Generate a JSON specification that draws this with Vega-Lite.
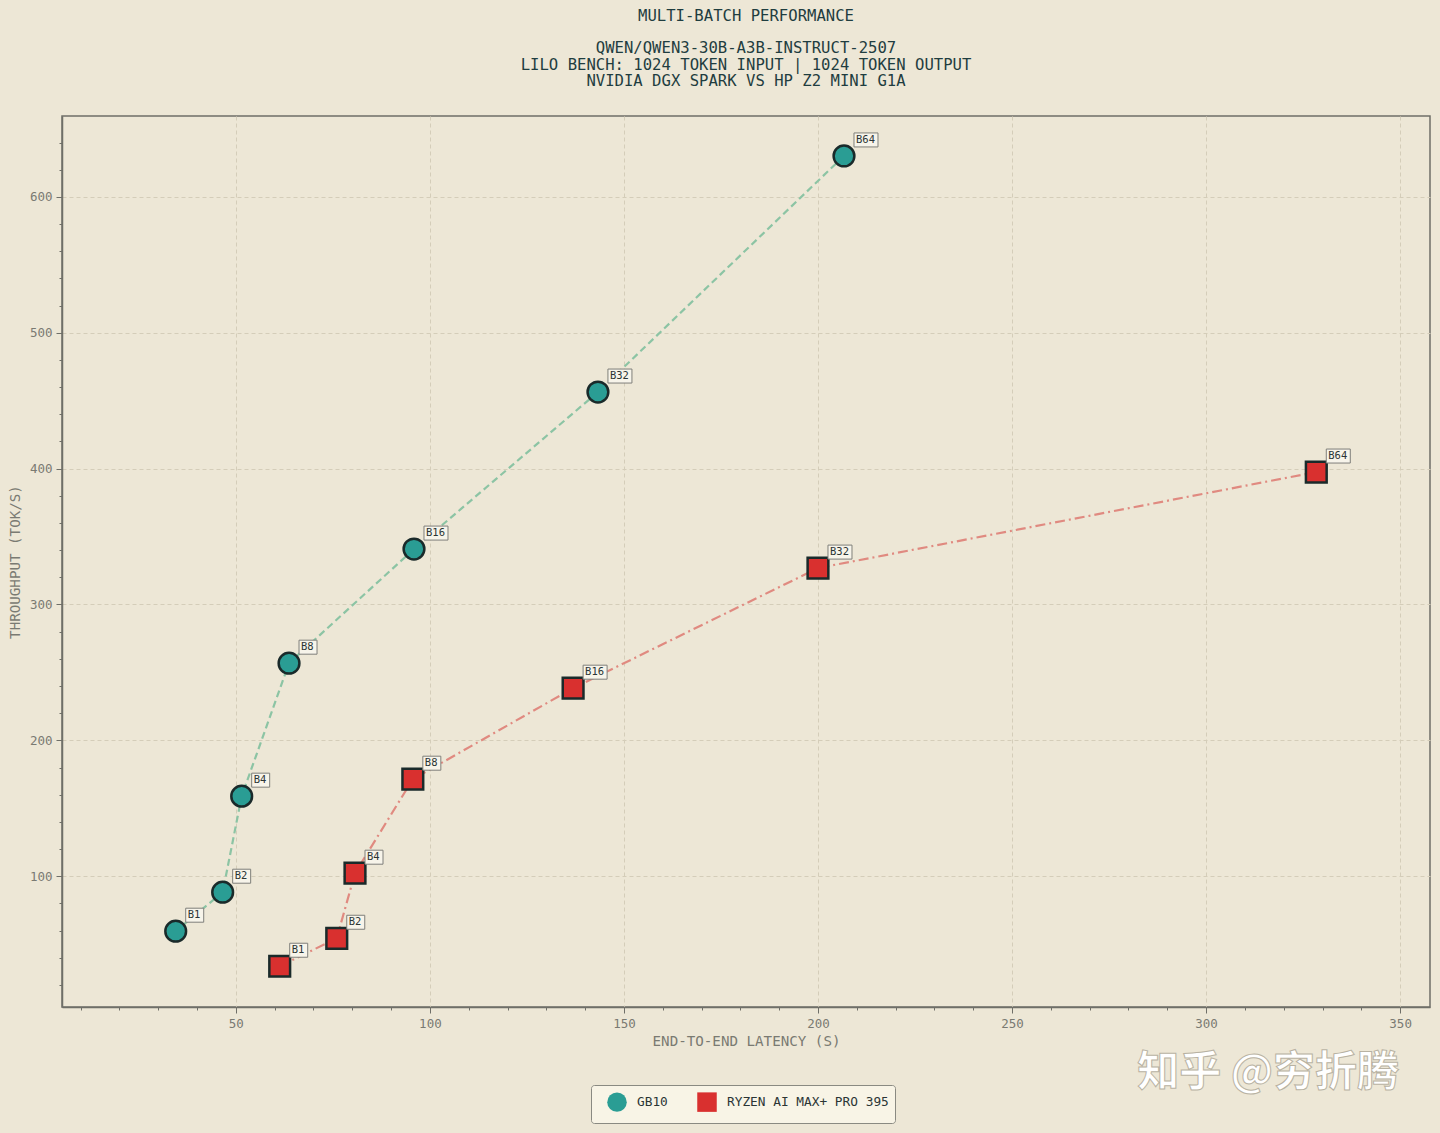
{
  "$schema": "https://vega.github.io/schema/vega-lite/v6.json",
  "width": 1368,
  "height": 891,
  "autosize": "none",
  "padding": {"left": 62, "top": 116, "right": 10, "bottom": 126},
  "background": "#ede7d6",
  "title": {
    "text": ["MULTI-BATCH PERFORMANCE", ""],
    "subtitle": ["QWEN/QWEN3-30B-A3B-INSTRUCT-2507", "LILO BENCH: 1024 TOKEN INPUT | 1024 TOKEN OUTPUT", "NVIDIA DGX SPARK VS HP Z2 MINI G1A"],
    "font": "DejaVu Sans Mono",
    "fontSize": 15.6,
    "fontWeight": "normal",
    "color": "#1f3d40",
    "subtitleFont": "DejaVu Sans Mono",
    "subtitleFontSize": 15.6,
    "subtitleColor": "#1f3d40",
    "subtitleLineHeight": 16.5,
    "lineHeight": 16.5,
    "subtitlePadding": 0,
    "anchor": "middle",
    "offset": 26
  },
  "data": {
    "values": [
      {"system": "GB10", "batch": "B1", "latency": 34.5, "throughput": 59.5},
      {"system": "GB10", "batch": "B2", "latency": 46.6, "throughput": 88.2},
      {"system": "GB10", "batch": "B4", "latency": 51.5, "throughput": 158.9},
      {"system": "GB10", "batch": "B8", "latency": 63.7, "throughput": 256.8},
      {"system": "GB10", "batch": "B16", "latency": 95.9, "throughput": 340.8},
      {"system": "GB10", "batch": "B32", "latency": 143.3, "throughput": 456.4},
      {"system": "GB10", "batch": "B64", "latency": 206.7, "throughput": 630.2},
      {"system": "RYZEN AI MAX+ PRO 395", "batch": "B1", "latency": 61.3, "throughput": 33.7},
      {"system": "RYZEN AI MAX+ PRO 395", "batch": "B2", "latency": 76.0, "throughput": 54.3},
      {"system": "RYZEN AI MAX+ PRO 395", "batch": "B4", "latency": 80.7, "throughput": 102.2},
      {"system": "RYZEN AI MAX+ PRO 395", "batch": "B8", "latency": 95.6, "throughput": 171.4},
      {"system": "RYZEN AI MAX+ PRO 395", "batch": "B16", "latency": 136.9, "throughput": 238.4},
      {"system": "RYZEN AI MAX+ PRO 395", "batch": "B32", "latency": 200.0, "throughput": 326.8},
      {"system": "RYZEN AI MAX+ PRO 395", "batch": "B64", "latency": 328.4, "throughput": 397.5}
    ]
  },
  "encoding": {
    "x": {
      "field": "latency", "type": "quantitative",
      "scale": {"domain": [5.2, 357.7], "nice": false, "zero": false},
      "axis": {
        "title": "END-TO-END LATENCY (S)",
        "values": [10, 20, 30, 40, 50, 60, 70, 80, 90, 100, 110, 120, 130, 140, 150, 160, 170, 180, 190, 200, 210, 220, 230, 240, 250, 260, 270, 280, 290, 300, 310, 320, 330, 340, 350],
        "labelExpr": "datum.value % 50 === 0 ? datum.label : ''",
        "tickSize": {"condition": {"test": "datum.value % 50 === 0", "value": 6}, "value": 3},
        "gridOpacity": {"condition": {"test": "datum.value % 50 === 0", "value": 1}, "value": 0},
        "titlePadding": 5
      }
    },
    "y": {
      "field": "throughput", "type": "quantitative",
      "scale": {"domain": [3.7, 659.6], "nice": false, "zero": false},
      "axis": {
        "title": "THROUGHPUT (TOK/S)",
        "values": [20, 40, 60, 80, 100, 120, 140, 160, 180, 200, 220, 240, 260, 280, 300, 320, 340, 360, 380, 400, 420, 440, 460, 480, 500, 520, 540, 560, 580, 600, 620, 640],
        "labelExpr": "datum.value % 100 === 0 ? datum.label : ''",
        "tickSize": {"condition": {"test": "datum.value % 100 === 0", "value": 6}, "value": 3},
        "gridOpacity": {"condition": {"test": "datum.value % 100 === 0", "value": 1}, "value": 0},
        "titlePadding": 7
      }
    }
  },
  "layer": [
    {
      "mark": {"type": "line", "strokeWidth": 2.2},
      "encoding": {
        "stroke": {"field": "system", "type": "nominal", "legend": null,
          "scale": {"domain": ["RYZEN AI MAX+ PRO 395", "GB10"], "range": ["#e08a80", "#8cc4a4"]}},
        "strokeDash": {"field": "system", "type": "nominal", "legend": null,
          "scale": {"domain": ["RYZEN AI MAX+ PRO 395", "GB10"], "range": [[10, 4, 2, 4], [7, 4]]}}
      }
    },
    {
      "mark": {"type": "point", "filled": true, "opacity": 1, "stroke": "#1a2a2a", "strokeWidth": 2.5, "size": 430},
      "encoding": {
        "fill": {"field": "system", "type": "nominal", "title": null,
          "scale": {"domain": ["GB10", "RYZEN AI MAX+ PRO 395"], "range": ["#2a9d94", "#d9302f"]},
          "legend": {"orient": "none", "legendX": 529, "legendY": 969, "direction": "horizontal"}},
        "shape": {"field": "system", "type": "nominal", "title": null,
          "scale": {"domain": ["GB10", "RYZEN AI MAX+ PRO 395"], "range": ["circle", "square"]},
          "legend": {"orient": "none", "legendX": 529, "legendY": 969, "direction": "horizontal"}}
      }
    },
    {
      "transform": [{"filter": "length(datum.batch) == 2"}],
      "mark": {"type": "point", "filled": true, "size": 4, "shape": "M0,-7H18V7H0Z", "fill": "#f7f4ea", "stroke": "#7f7f7a", "strokeWidth": 1, "opacity": 1, "xOffset": 10, "yOffset": -16}
    },
    {
      "transform": [{"filter": "length(datum.batch) == 3"}],
      "mark": {"type": "point", "filled": true, "size": 4, "shape": "M0,-7H24V7H0Z", "fill": "#f7f4ea", "stroke": "#7f7f7a", "strokeWidth": 1, "opacity": 1, "xOffset": 10, "yOffset": -16}
    },
    {
      "mark": {"type": "text", "font": "DejaVu Sans Mono", "fontSize": 10.5, "color": "#2b3535", "align": "left", "baseline": "middle", "dx": 12, "dy": -16},
      "encoding": {"text": {"field": "batch"}}
    },
    {
      "data": {"values": [{"latency": 316, "throughput": -45, "mark": "知乎 @穷折腾"}]},
      "mark": {"type": "text", "font": "Noto Sans CJK SC", "fontSize": 42, "fontWeight": "bold", "fill": "#ffffff", "stroke": "#b8b2a2", "strokeWidth": 1, "align": "center", "baseline": "middle", "clip": false},
      "encoding": {"text": {"field": "mark"}}
    }
  ],
  "config": {
    "view": {"stroke": "#6f6f68", "strokeWidth": 1.5, "fill": "#ede7d6"},
    "axis": {
      "labelFont": "DejaVu Sans Mono",
      "labelFontSize": 12.5,
      "labelColor": "#7a7a72",
      "titleFont": "DejaVu Sans Mono",
      "titleFontSize": 14.2,
      "titleFontWeight": "normal",
      "titleColor": "#7a7a72",
      "tickColor": "#6f6f68",
      "domainColor": "#6f6f68",
      "domainWidth": 1.5,
      "gridColor": "#d4cdb9",
      "gridDash": [4, 3],
      "gridWidth": 1,
      "labelPadding": 4
    },
    "legend": {
      "labelFont": "DejaVu Sans Mono",
      "labelFontSize": 12.8,
      "labelColor": "#2b3535",
      "labelLimit": 400,
      "symbolSize": 380,
      "symbolStrokeColor": "#1a2a2a",
      "symbolStrokeWidth": 2.5,
      "fillColor": "#f8f4e6",
      "strokeColor": "#8a8a82",
      "padding": 6,
      "cornerRadius": 3,
      "columnPadding": 19,
      "symbolOffset": 9,
      "labelOffset": 9
    }
  }
}
